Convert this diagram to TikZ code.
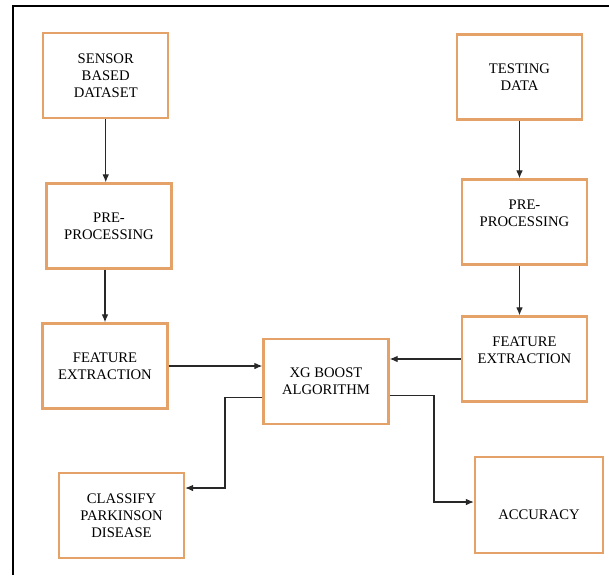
\documentclass[tikz,border=0pt]{standalone}
\usepackage{fontspec}
\setmainfont{Liberation Serif}
\usetikzlibrary{arrows.meta}
\definecolor{boxline}{RGB}{228,162,104}
\definecolor{flow}{RGB}{40,40,40}

\begin{document}
\begin{tikzpicture}[x=0.03cm,y=-0.03cm,>={Latex[length=2.4mm,width=2mm]},
	blk/.style={draw=boxline,line width=2pt,fill=white,align=center,
		minimum width=3.75cm,minimum height=2.55cm,inner sep=2pt,
		font=\fontsize{12.5}{14.5}\selectfont},
	flowline/.style={draw=flow,line width=1pt,->}]
					\useasboundingbox (0,0) rectangle (609,575);
					\draw[line width=1.6pt] (13,575) -- (13,6) -- (609,6);
					\node[blk] (sensor) at (105.75,75.5) {SENSOR\\BASED\\DATASET};
					\node[blk] (testing) at (519.5,77) {TESTING\\DATA};
					\node[blk] (prel) at (109,226) {PRE-\\PROCESSING};
					\node[blk,text depth=0.54cm] (prer) at (524.5,222) {PRE-\\PROCESSING};
					\node[blk] (featl) at (105,366) {FEATURE\\EXTRACTION};
					\node[blk] (xg) at (326,381.5) {XG BOOST\\ALGORITHM};
					\node[blk,text depth=0.54cm] (featr) at (524.5,359) {FEATURE\\EXTRACTION};
					\node[blk] (classify) at (121.5,515.5) {CLASSIFY\\PARKINSON\\DISEASE};
					\node[blk,minimum width=3.84cm,minimum height=2.88cm,text height=0.9cm] (acc) at (539,505) {ACCURACY};
					\coordinate (cbend) at (225,488);
					\coordinate (abend) at (434,502);
					\draw[flowline] (sensor) -- (sensor |- prel.north);
					\draw[flowline] (featl |- prel.south) -- (featl);
					\draw[flowline] (testing) -- (testing |- prer.north);
					\draw[flowline] (testing |- prer.south) -- (testing |- featr.north);
					\draw[flowline] (featl) -- (featl -| xg.west);
					\draw[flowline] (featr) -- (featr -| xg.east);
					\draw[flowline] ([yshift=-0.47cm]xg.west) -| (cbend) -- (cbend -| classify.east);
					\draw[flowline] ([yshift=-0.43cm]xg.east) -| (abend) -- (abend -| acc.west);
				\end{tikzpicture}
\end{document}
